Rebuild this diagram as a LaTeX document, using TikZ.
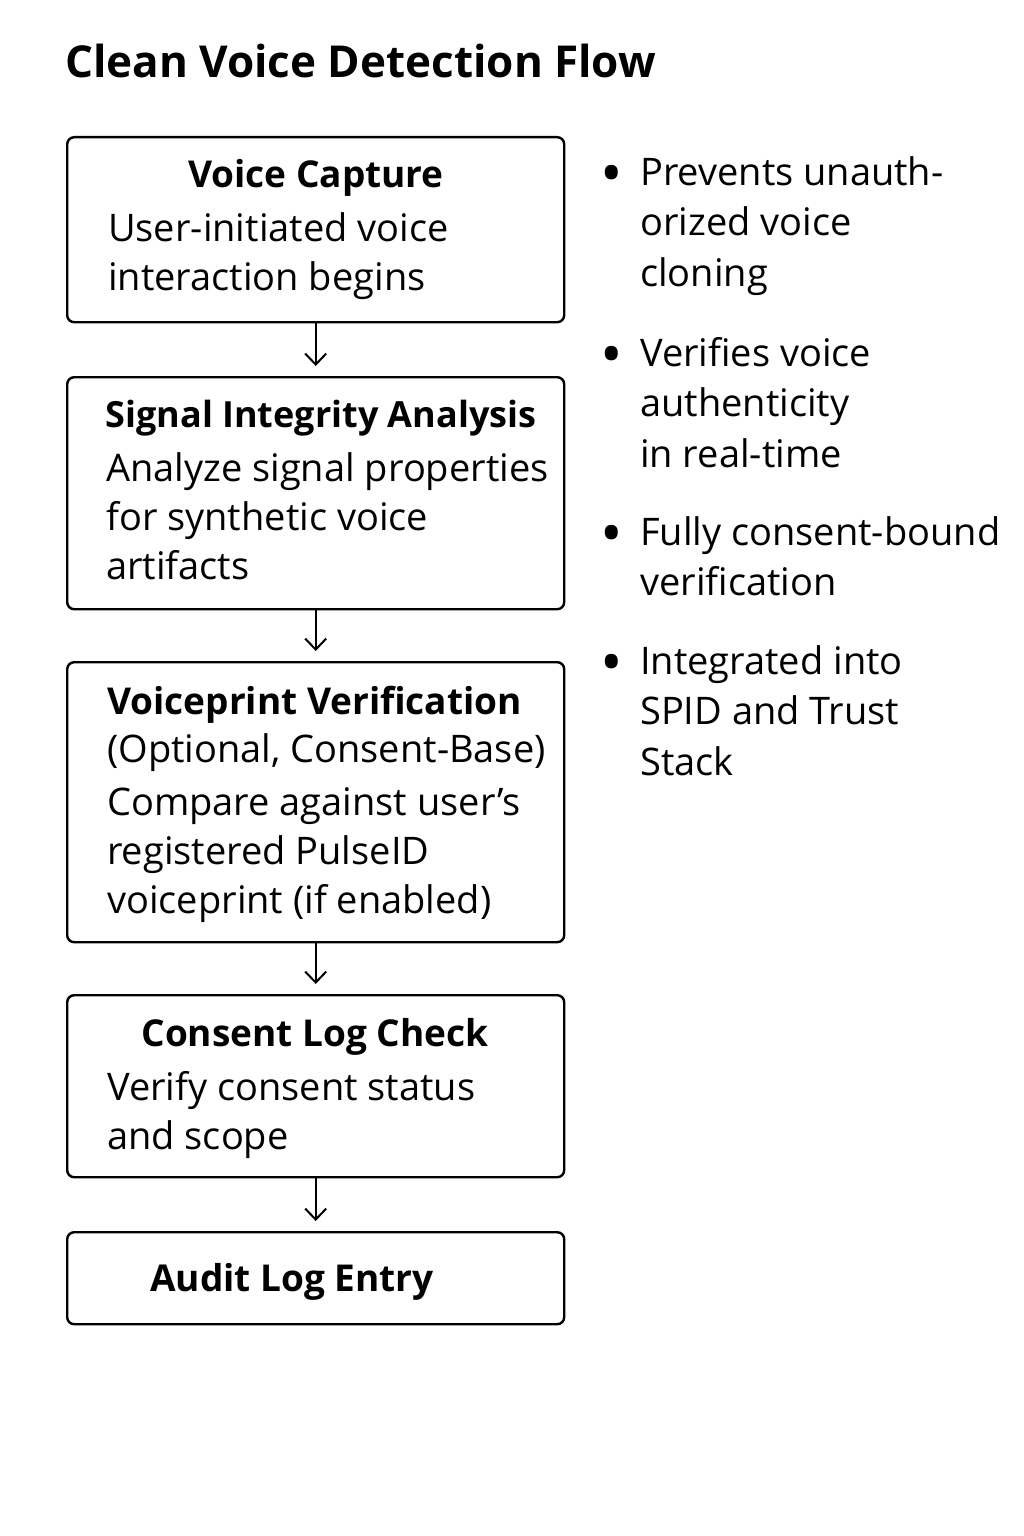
\documentclass[tikz,border=0pt]{standalone}
\usepackage{fontspec}
\setmainfont{Open Sans}
\usetikzlibrary{positioning,arrows.meta}
\begin{document}
\begin{tikzpicture}[x=1pt,y=-1pt,
    caja/.style={draw, line width=2.4pt, rounded corners=7pt, anchor=north west,
      minimum width=497pt, inner sep=0pt},
    titulo/.style={font=\fontsize{37}{49}\selectfont\bfseries, anchor=base, inner sep=0pt},
    texto/.style={font=\fontsize{38}{49}\selectfont, align=left, anchor=north west, inner sep=0pt},
    punto/.style={font=\fontsize{38}{50.5}\selectfont, align=left, anchor=north west, inner sep=0pt},
    flecha/.style={-{Straight Barb[length=11pt,width=21pt]}, line width=2pt, shorten >=10pt}]
    % Marco de la figura
    \useasboundingbox (0,0) rectangle (1024,1536);

    % Titulo
    \node[font=\fontsize{44}{50}\selectfont\bfseries, anchor=base west, inner sep=0pt]
        (head) at (65,78) {Clean Voice Detection Flow};

    % Cajas del flujo
    \node[caja, minimum height=185pt] (capture) at (66,136) {};
    \node[caja, minimum height=232pt] (integrity) at (66,376) {};
    \node[caja, minimum height=280pt] (voiceprint) at (66,661) {};
    \node[caja, minimum height=182pt] (consent) at (66,994) {};
    \node[caja, minimum height=92pt] (audit) at (66,1231) {};

    % Textos de las cajas
    \node[titulo] (captureT) at (316,187) {Voice Capture};
    \node[titulo, font=\fontsize{36}{49}\selectfont\bfseries] (integrityT) at (321,427) {Signal Integrity Analysis};
    \node[titulo, anchor=base west] (voiceprintT) at (107,714) {Voiceprint Verification};
    \node[titulo] (consentT) at (315,1046) {Consent Log Check};
    \node[titulo] (auditT) at (292,1291) {Audit Log Entry};

    \node[texto] (captureB) at (108,212) {User-initiated voice\\interaction begins};
    \node[texto] (integrityB) at (106,452) {Analyze signal properties\\for synthetic voice\\artifacts};
    \node[texto] (voiceprintB) at (107,733) {(Optional, Consent-Base)};
    \node[texto] (voiceprintC) at (107,787) {Compare against user’s\\registered PulseID\\voiceprint (if enabled)};
    \node[texto] (consentB) at (107,1071) {Verify consent status\\and scope};

    % Flechas
    \draw[flecha] (capture.south) -- (integrity.north);
    \draw[flecha] (integrity.south) -- (voiceprint.north);
    \draw[flecha] (voiceprint.south) -- (consent.north);
    \draw[flecha] (consent.south) -- (audit.north);

    % Lista de la derecha
    \foreach \y/\n in {180/a,361/b,540/c,669/d}
        \node[font=\fontsize{60}{60}\selectfont, inner sep=0pt] (dot\n) at (612,\y) {•};
    \node[punto] (itemA) at (640,156) {Prevents unauth-\\orized voice\\cloning};
    \node[punto] (itemB) at (640,337) {Verifies voice\\authenticity\\in real-time};
    \node[punto] (itemC) at (640,516) {Fully consent-bound\\verification};
    \node[punto] (itemD) at (640,645) {Integrated into\\SPID and Trust\\Stack};
\end{tikzpicture}
\end{document}
